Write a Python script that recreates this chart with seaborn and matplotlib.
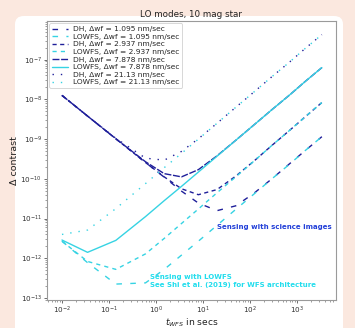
import matplotlib
matplotlib.use("Agg")
import matplotlib.pyplot as plt
from matplotlib.patches import FancyBboxPatch
import pandas as pd
import seaborn as sns

# integration time (s)
t_sec = [0.01, 0.035, 0.14, 0.6, 1.5, 3.5, 8, 20, 50, 120, 300, 700, 1500, 3400]

# contrast for each wavefront drift rate (nm/sec)
dh_1095 = [1.26e-8, 3.80e-9, 1.02e-9, 2.57e-10, 1.10e-10, 4.90e-11, 2.45e-11,
           1.58e-11, 2.09e-11, 4.27e-11, 1.02e-10, 2.40e-10, 5.13e-10, 1.15e-9]
lowfs_1095 = [2.69e-12, 7.76e-13, 2.24e-13, 2.40e-13, 5.25e-13, 1.20e-12, 2.69e-12,
              6.76e-12, 1.70e-11, 4.07e-11, 1.02e-10, 2.34e-10, 5.13e-10, 1.15e-9]
dh_2937 = [1.26e-8, 3.80e-9, 1.02e-9, 2.57e-10, 1.12e-10, 5.62e-11, 3.98e-11,
           5.37e-11, 1.17e-10, 2.75e-10, 7.08e-10, 1.66e-9, 3.63e-9, 8.32e-9]
lowfs_2937 = [2.69e-12, 8.32e-13, 5.25e-13, 1.29e-12, 3.16e-12, 7.50e-12, 1.74e-11,
              4.47e-11, 1.12e-10, 2.75e-10, 7.08e-10, 1.66e-9, 3.63e-9, 8.32e-9]
dh_7878 = [1.26e-8, 3.80e-9, 1.02e-9, 2.69e-10, 1.35e-10, 1.12e-10, 1.70e-10,
           3.80e-10, 9.33e-10, 2.24e-9, 5.62e-9, 1.29e-8, 2.82e-8, 6.31e-8]
lowfs_7878 = [2.88e-12, 1.41e-12, 2.82e-12, 1.12e-11, 2.82e-11, 6.46e-11, 1.48e-10,
              3.72e-10, 9.33e-10, 2.24e-9, 5.62e-9, 1.29e-8, 2.82e-8, 6.31e-8]
dh_2113 = [1.26e-8, 3.80e-9, 1.05e-9, 3.31e-10, 2.95e-10, 4.90e-10, 1.02e-9,
           2.51e-9, 6.31e-9, 1.51e-8, 3.80e-8, 8.71e-8, 1.91e-7, 4.27e-7]
lowfs_2113 = [3.98e-12, 5.13e-12, 1.78e-11, 7.59e-11, 1.91e-10, 4.37e-10, 1.00e-9,
              2.51e-9, 6.31e-9, 1.51e-8, 3.80e-8, 8.71e-8, 1.91e-7, 4.27e-7]

series_labels = [
    "DH, \u0394wf = 1.095 nm/sec", "LOWFS, \u0394wf = 1.095 nm/sec",
    "DH, \u0394wf = 2.937 nm/sec", "LOWFS, \u0394wf = 2.937 nm/sec",
    "DH, \u0394wf = 7.878 nm/sec", "LOWFS, \u0394wf = 7.878 nm/sec",
    "DH, \u0394wf = 21.13 nm/sec", "LOWFS, \u0394wf = 21.13 nm/sec",
]
series_values = [dh_1095, lowfs_1095, dh_2937, lowfs_2937,
                 dh_7878, lowfs_7878, dh_2113, lowfs_2113]

DH_COL = "#1f1f9a"
LO_COL = "#36d3e3"
styles = [
    (DH_COL, (0, (4, 6))), (LO_COL, (0, (4, 6))),
    (DH_COL, (0, (3, 2.5))), (LO_COL, (0, (3, 3))),
    (DH_COL, (0, (5, 1.2))), (LO_COL, "-"),
    (DH_COL, (0, (1, 5))), (LO_COL, (0, (1, 5))),
]

sns.set_style("ticks", {"axes.edgecolor": "#9a9a9a"})
plt.rcParams["font.family"] = ["DejaVu Sans"]
plt.rcParams["mathtext.fontset"] = "dejavusans"

fig = plt.figure(figsize=(3.55, 3.28), dpi=100)
fig.patch.set_facecolor("#fbe8df")
card = FancyBboxPatch((15 / 355, -0.05), (343 - 15) / 355, 1 - 16 / 328 + 0.05,
                      boxstyle="round,pad=0,rounding_size=0.025",
                      transform=fig.transFigure, facecolor="white",
                      edgecolor="none", zorder=-10)
fig.add_artist(card)

ax = fig.add_axes([47 / 355, 1 - 300 / 328, (336 - 47) / 355, (300 - 21) / 328])
ax.set_facecolor("white")

for lab, vals, (col, ls) in zip(series_labels, series_values, styles):
    df = pd.DataFrame({"t": t_sec, "c": vals})
    sns.lineplot(data=df, x="t", y="c", ax=ax, color=col, linestyle=ls,
                 linewidth=1.0, label=lab)

ax.set_xscale("log")
ax.set_yscale("log")
ax.set_xlim(4.8e-3, 6.8e3)
ax.set_ylim(8.9e-14, 9.4e-7)

ax.tick_params(axis="both", which="major", labelsize=5.2, length=2.5, width=0.6,
               pad=1.0, colors="#555555", labelcolor="#333333")
ax.tick_params(axis="both", which="minor", length=1.4, width=0.5, colors="#777777")

ax.set_title("LO modes, 10 mag star", fontsize=6.3, pad=3, color="#222222")
ax.set_ylabel("\u0394 contrast", fontsize=6.8, labelpad=1, color="#222222")
ax.set_xlabel("$t_{WFS}$ in secs", fontsize=6.6, labelpad=0, color="#222222")

leg = ax.legend(loc="upper left", fontsize=5.4, labelspacing=0.18,
                handlelength=2.2, borderpad=0.35, handletextpad=0.6,
                frameon=True, framealpha=0.9, edgecolor="#cccccc",
                borderaxespad=0.3)
leg.get_frame().set_linewidth(0.6)

ax.text(20, 6.3e-12, "Sensing with science images", fontsize=5, fontweight="bold",
        color="#2340d8", ha="left", va="center")
ax.text(0.745, 2.65e-13, "Sensing with LOWFS\nSee Shi et al. (2019) for WFS architecture",
        fontsize=5, fontweight="bold", color="#22dded", ha="left", va="center",
        linespacing=1.45)

fig.savefig("out.png", dpi=100)
